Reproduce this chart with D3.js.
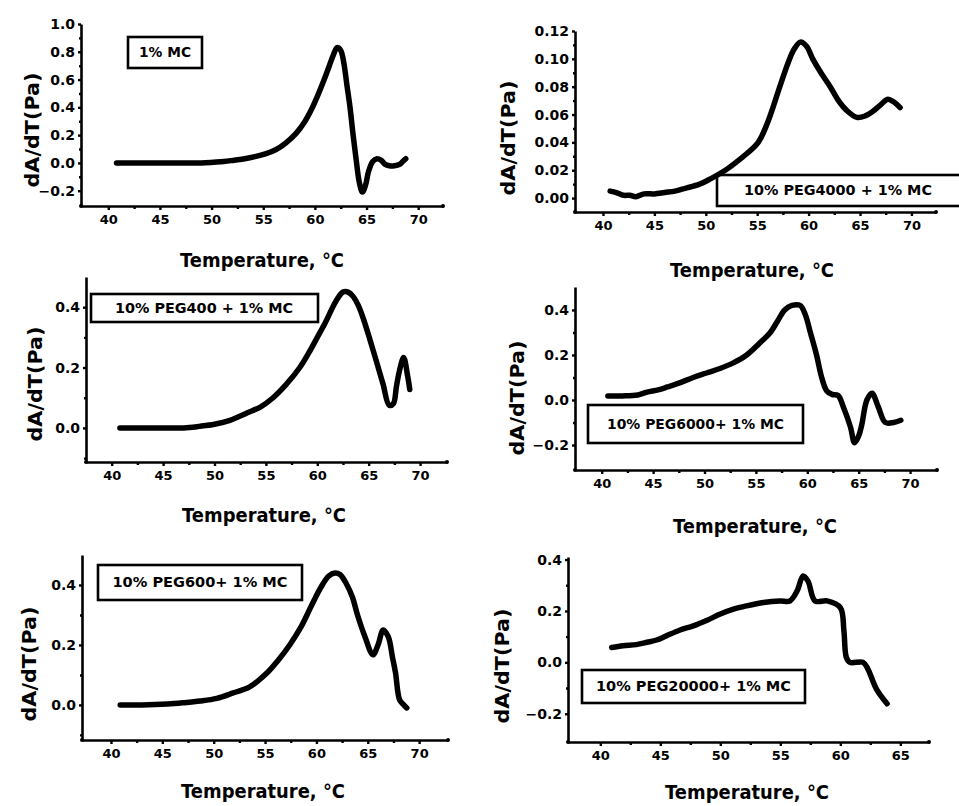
<!DOCTYPE html>
<html><head><meta charset="utf-8">
<script src="https://cdn.jsdelivr.net/npm/d3@7"></script>
<style>body{margin:0;background:#fff} svg{display:block}</style>
</head><body>
<svg id="c" width="959" height="806"></svg>
<script>
// ---------------- DATA ----------------
const mcT = [40.8,43,45,47,49,50.2,51.2,52.2,53.2,54.2,55.2,56.2,57.2,58.2,59.0,59.7,60.3,60.9,61.4,61.8,62.15,62.5,62.8,63.1,63.4,63.7,64.0,64.3,64.6,64.9,65.2,65.6,66.0,66.4,66.8,67.2,67.7,68.2,68.5,68.8];
const mcV = [0,0,0,0,0,0.005,0.01,0.02,0.03,0.045,0.065,0.095,0.145,0.215,0.295,0.39,0.49,0.6,0.7,0.78,0.83,0.81,0.72,0.56,0.4,0.2,0.02,-0.14,-0.21,-0.16,-0.06,0.01,0.03,0.02,-0.01,-0.02,-0.02,-0.01,0.01,0.03];

const peg4000T = [40.7,41.3,42,42.6,43.2,44,45,46,47,48,49.4,50.5,51.9,53,54,55.1,56,57.2,58,58.6,59.2,59.8,60.4,61.2,62.1,62.9,63.7,64.7,65.5,66.2,67,67.7,68.3,68.9];
const peg4000V = [0.005,0.004,0.002,0.002,0.001,0.003,0.003,0.004,0.005,0.007,0.01,0.014,0.02,0.026,0.032,0.04,0.054,0.08,0.097,0.107,0.112,0.109,0.1,0.09,0.08,0.07,0.063,0.058,0.059,0.062,0.067,0.071,0.069,0.065];

const peg400T = [40.8,43,45,47,48.5,50,51.5,53.2,54.5,55.7,57,58.3,59.2,60.0,60.8,61.5,62.0,62.5,63.0,63.5,64.0,64.5,65.1,65.8,66.4,67.0,67.4,67.7,68.0,68.4,68.8,69.0];
const peg400V = [0,0,0,0,0.005,0.012,0.025,0.05,0.07,0.1,0.145,0.2,0.25,0.3,0.35,0.4,0.43,0.45,0.45,0.435,0.405,0.36,0.295,0.215,0.145,0.075,0.08,0.137,0.19,0.233,0.17,0.127];

const peg6000T = [40.6,42,43.5,44.4,45.5,46.4,47.5,48.9,50.2,51.5,52.8,54.1,55.3,56.4,57.1,57.8,58.5,59.3,59.8,60.3,60.9,61.4,61.9,62.4,63.0,63.5,64.2,64.6,65.0,65.3,65.8,66.3,66.9,67.6,68.4,69.1];
const peg6000V = [0.018,0.018,0.022,0.035,0.045,0.058,0.075,0.1,0.12,0.14,0.165,0.2,0.25,0.3,0.35,0.4,0.42,0.42,0.38,0.3,0.2,0.1,0.04,0.025,0.02,-0.03,-0.12,-0.19,-0.16,-0.11,0.0,0.03,-0.03,-0.1,-0.1,-0.09];

const peg600T = [40.9,43,45.5,47,48.7,50.3,51.9,53.5,55.2,56.3,57.4,58.5,59.5,60.4,61.2,61.8,62.3,62.9,63.5,64.0,64.7,65.5,66.0,66.5,67.0,67.4,67.7,68.1,68.5,68.8];
const peg600V = [0,0,0.003,0.007,0.013,0.022,0.04,0.06,0.107,0.15,0.2,0.26,0.33,0.39,0.43,0.44,0.435,0.405,0.36,0.3,0.23,0.167,0.2,0.25,0.227,0.16,0.107,0.017,0.0,-0.01];

const peg20000T = [40.95,41.9,43.0,43.9,44.7,45.5,46.6,47.75,48.9,50.0,51.1,52.2,53.6,55.0,55.8,56.4,56.9,57.3,57.9,58.9,60.0,60.3,60.5,60.8,61.9,62.3,63.0,63.9];
const peg20000V = [0.058,0.065,0.069,0.078,0.087,0.103,0.125,0.142,0.164,0.188,0.207,0.22,0.233,0.239,0.239,0.278,0.336,0.317,0.239,0.239,0.213,0.123,0.02,0.0,0.0,-0.026,-0.103,-0.161];

const xTicks70 = [40,45,50,55,60,65,70];
const xTicks65 = [40,45,50,55,60,65];
const xMinor70 = [42.5,47.5,52.5,57.5,62.5,67.5];
const xMinor65 = [42.5,47.5,52.5,57.5,62.5];
const yTicksA = [-0.2,0,0.2,0.4,0.6,0.8,1.0];
const yMinorA = [-0.1,0.1,0.3,0.5,0.7,0.9];
const yTicksB = [0,0.02,0.04,0.06,0.08,0.10,0.12];
const yMinorB = [0.01,0.03,0.05,0.07,0.09,0.11];
const yTicksC = [0,0.2,0.4];
const yMinorC = [-0.1,0.1,0.3];
const yTicksD = [-0.2,0,0.2,0.4];
const yMinorD = [-0.1,0.1,0.3];

const legendLabels = ["1% MC","10% PEG4000 + 1% MC","10% PEG400 + 1% MC","10% PEG6000+ 1% MC","10% PEG600+ 1% MC","10% PEG20000+ 1% MC"];
const xTitle = "Temperature, °C";
const yTitle = "dA/dT(Pa)";

// ---------------- LAYOUT ----------------
const panels = [
 {T:mcT, V:mcV, xt:xTicks70, xm:xMinor70, yt:yTicksA, ym:yMinorA, fmt:".1f",
  left:81, right:443, top:24, bottom:206, xd:[37.36,72.4], yd:[-0.31,1.0],
  box:[128,37,74,31], bw:52, leg:0, ytc:[32,130], xtc:[262,267]},
 {T:peg4000T, V:peg4000V, xt:xTicks70, xm:xMinor70, yt:yTicksB, ym:yMinorB, fmt:".2f",
  left:575, right:936, top:31, bottom:212, xd:[37.28,72.39], yd:[-0.01,0.12],
  box:[717,175,250,31], bw:188, bcx:838, leg:1, ytc:[508,138], xtc:[752,277]},
 {T:peg400T, V:peg400V, xt:xTicks70, xm:xMinor70, yt:yTicksC, ym:yMinorC, fmt:".1f",
  left:86, right:447, top:277, bottom:462, xd:[37.5,72.62], yd:[-0.113,0.5],
  box:[91,294,227,28], bw:178, bcx:204, leg:2, ytc:[35,384], xtc:[264,522]},
 {T:peg6000T, V:peg6000V, xt:xTicks70, xm:xMinor70, yt:yTicksD, ym:yMinorD, fmt:".1f",
  left:575, right:937, top:287, bottom:470, xd:[37.4,72.62], yd:[-0.311,0.502],
  box:[588,405,215,38], bw:177, leg:3, ytc:[517,398], xtc:[755,533]},
 {T:peg600T, V:peg600V, xt:xTicks70, xm:xMinor70, yt:yTicksC, ym:yMinorC, fmt:".1f",
  left:82, right:448, top:555, bottom:740, xd:[37.18,72.81], yd:[-0.117,0.5],
  box:[98,565,204,35], bw:175, leg:4, ytc:[29,664], xtc:[263,798]},
 {T:peg20000T, V:peg20000V, xt:xTicks65, xm:xMinor65, yt:yTicksD, ym:yMinorD, fmt:".1f",
  left:568, right:929, top:557, bottom:742, xd:[37.31,67.39], yd:[-0.31,0.41],
  box:[582,670,223,33], bw:195, leg:5, ytc:[502,666], xtc:[747,799]}
];

const svg = d3.select("#c");
const FONT = "'DejaVu Sans', 'Liberation Sans', sans-serif";

panels.forEach(p => {
  const x = d3.scaleLinear().domain(p.xd).range([p.left, p.right]);
  const y = d3.scaleLinear().domain(p.yd).range([p.bottom, p.top]);
  const g = svg.append("g");

  const xa = g.append("g").attr("transform", `translate(0,${p.bottom})`)
    .call(d3.axisBottom(x).tickValues(p.xt).tickSize(4).tickSizeOuter(0).tickPadding(5).tickFormat(d3.format("d")));
  const xmi = g.append("g").attr("transform", `translate(0,${p.bottom})`)
    .call(d3.axisBottom(x).tickValues(p.xm).tickSize(3).tickSizeOuter(0).tickFormat(""));
  xmi.select(".domain").remove();
  const ya = g.append("g").attr("transform", `translate(${p.left},0)`)
    .call(d3.axisLeft(y).tickValues(p.yt).tickSize(3).tickSizeOuter(0).tickPadding(3).tickFormat(d3.format(p.fmt)));
  const ymi = g.append("g").attr("transform", `translate(${p.left},0)`)
    .call(d3.axisLeft(y).tickValues(p.ym).tickSize(2).tickSizeOuter(0).tickFormat(""));
  ymi.select(".domain").remove();

  [xa, ya, xmi, ymi].forEach(a => {
    a.selectAll("path.domain").attr("stroke", "#000").attr("stroke-width", 2.6);
    a.selectAll(".tick line").attr("stroke", "#000").attr("stroke-width", 2.4);
  });
  xa.selectAll(".tick text").attr("font-family", FONT).attr("font-weight", "bold")
    .attr("font-size", 13).attr("fill", "#000");
  ya.selectAll(".tick text").attr("font-family", FONT).attr("font-weight", "bold")
    .attr("font-size", 14).attr("fill", "#000");

  g.append("circle").attr("cx", p.left).attr("cy", p.bottom).attr("r", 2).attr("fill", "#000");
  g.append("circle").attr("cx", p.right).attr("cy", p.bottom).attr("r", 2).attr("fill", "#000");

  const pts = p.T.map((t, i) => [t, p.V[i]]);
  g.append("path").datum(pts)
    .attr("d", d3.line().x(d => x(d[0])).y(d => y(d[1])).curve(d3.curveCatmullRom.alpha(0.5)))
    .attr("fill", "none").attr("stroke", "#000").attr("stroke-width", 5.5)
    .attr("stroke-linejoin", "round").attr("stroke-linecap", "round");

  const [bx, by, bw, bh] = p.box;
  g.append("rect").attr("x", bx).attr("y", by).attr("width", bw).attr("height", bh)
    .attr("fill", "none").attr("stroke", "#000").attr("stroke-width", 2.6);
  const cx = p.bcx !== undefined ? p.bcx : bx + bw / 2;
  g.append("text").attr("x", cx).attr("y", by + bh / 2).attr("dy", "0.36em")
    .attr("text-anchor", "middle").attr("font-family", FONT).attr("font-weight", "bold")
    .attr("font-size", 13.5).attr("textLength", p.bw).attr("lengthAdjust", "spacingAndGlyphs")
    .text(legendLabels[p.leg]);

  g.append("text").attr("x", p.xtc[0]).attr("y", p.xtc[1]).attr("text-anchor", "middle")
    .attr("font-family", FONT).attr("font-weight", "bold").attr("font-size", 19)
    .attr("textLength", 164).attr("lengthAdjust", "spacingAndGlyphs").text(xTitle);

  g.append("text").attr("transform", `translate(${p.ytc[0]},${p.ytc[1]}) rotate(-90)`)
    .attr("text-anchor", "middle").attr("dy", "0.35em")
    .attr("font-family", FONT).attr("font-weight", "bold").attr("font-size", 19)
    .attr("textLength", 115).attr("lengthAdjust", "spacingAndGlyphs").text(yTitle);
});
</script>
</body></html>
